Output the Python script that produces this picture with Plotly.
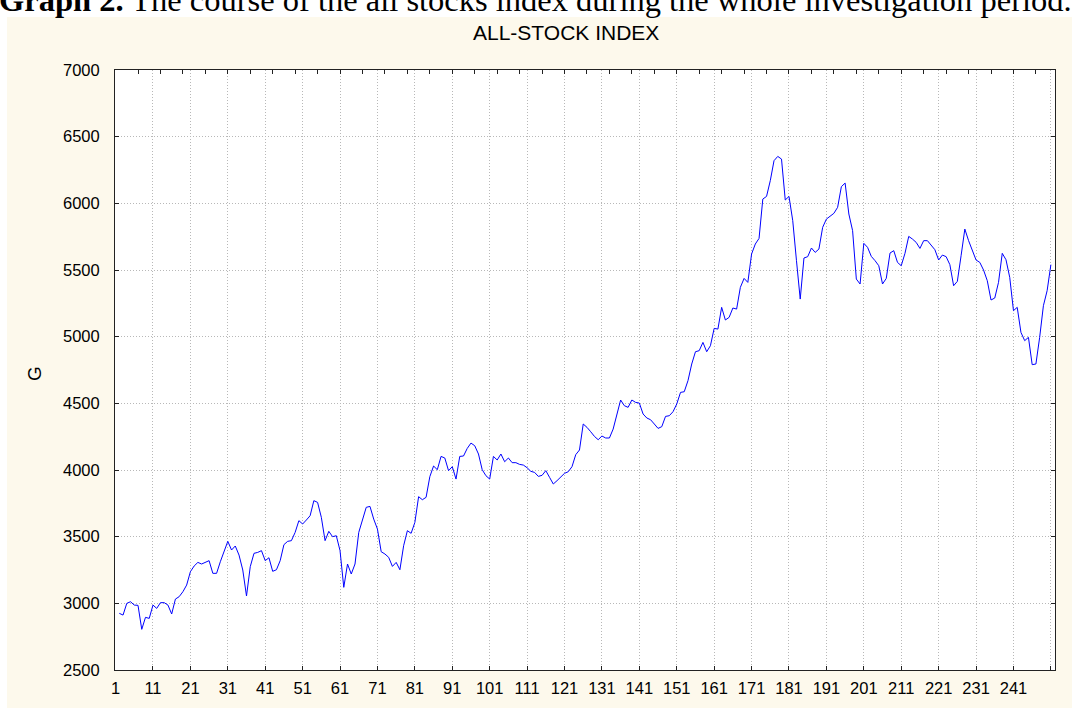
import plotly.graph_objects as go

# ---- data ----
period = list(range(2, 252))
index_values = [
    2925, 2912, 3000, 3012, 2987, 2985, 2805, 2895, 2887, 2987,
    2962, 3005, 3005, 2987, 2920, 3032, 3050, 3087, 3137, 3237,
    3280, 3307, 3295, 3305, 3320, 3225, 3225, 3312, 3395, 3465,
    3400, 3430, 3362, 3250, 3055, 3275, 3375, 3382, 3395, 3320,
    3342, 3240, 3252, 3320, 3440, 3465, 3470, 3532, 3620, 3595,
    3625, 3657, 3770, 3757, 3645, 3470, 3540, 3500, 3507, 3395,
    3120, 3295, 3220, 3295, 3532, 3620, 3720, 3727, 3632, 3557,
    3387, 3370, 3345, 3277, 3307, 3252, 3432, 3545, 3525, 3607,
    3800, 3777, 3795, 3950, 4030, 4002, 4102, 4090, 3995, 4025,
    3932, 4102, 4105, 4162, 4202, 4182, 4120, 4002, 3957, 3932,
    4102, 4075, 4120, 4062, 4090, 4055, 4055, 4042, 4037, 4017,
    3990, 3982, 3952, 3960, 3995, 3945, 3895, 3920, 3945, 3975,
    3987, 4025, 4115, 4150, 4345, 4320, 4287, 4252, 4227, 4255,
    4240, 4240, 4307, 4412, 4525, 4482, 4470, 4525, 4507, 4502,
    4420, 4390, 4377, 4345, 4312, 4325, 4402, 4407, 4437, 4495,
    4582, 4587, 4670, 4795, 4887, 4895, 4957, 4887, 4932, 5062,
    5057, 5220, 5125, 5145, 5215, 5207, 5370, 5437, 5407, 5620,
    5695, 5737, 6032, 6052, 6170, 6320, 6352, 6332, 6025, 6052,
    5870, 5570, 5282, 5590, 5600, 5665, 5632, 5657, 5820, 5882,
    5907, 5925, 5970, 6125, 6152, 5920, 5795, 5432, 5395, 5700,
    5670, 5602, 5570, 5532, 5395, 5437, 5627, 5645, 5557, 5532,
    5625, 5752, 5732, 5707, 5662, 5720, 5720, 5682, 5652, 5575,
    5612, 5600, 5540, 5382, 5415, 5607, 5807, 5720, 5650, 5575,
    5557, 5500, 5420, 5275, 5290, 5407, 5625, 5577, 5445, 5195,
    5220, 5032, 4970, 4995, 4790, 4795, 4995, 5232, 5345, 5540,
]
x_tick_vals = list(range(1, 252, 10))
x_tick_text = [str(v) for v in range(1, 242, 10)] + [""]
top_tick_vals = list(range(1, 252, 6))
y_tick_vals = [2500, 3000, 3500, 4000, 4500, 5000, 5500, 6000, 6500, 7000]

chart_title = "ALL-STOCK INDEX"
y_title = "G"
header = "<b>Graph 2.</b> The course of the all stocks index during the whole investigation period."

CREAM = "rgb(253,249,236)"
FONT = "Liberation Sans, Arial, sans-serif"
AX = "#222"
GRID = "#b8b8b8"
GRID_DASH = "1px,2px"

fig = go.Figure()
fig.add_trace(go.Scatter(x=period, y=index_values, mode="lines",
                         line=dict(color="#0000ff", width=1),
                         showlegend=False, hoverinfo="x+y"))
# invisible trace carrying the top axis
fig.add_trace(go.Scatter(x=period, y=index_values, mode="lines", xaxis="x2",
                         line=dict(color="rgba(0,0,0,0)", width=0),
                         showlegend=False, hoverinfo="skip"))

xr = [0.85, 252.1]
fig.update_layout(
    width=1072, height=708,
    margin=dict(l=115, r=17, t=70, b=38),
    paper_bgcolor=CREAM,
    plot_bgcolor="white",
    font=dict(family=FONT, size=16.5, color="black"),
    xaxis=dict(range=xr, tickvals=x_tick_vals, ticktext=x_tick_text,
               ticks="inside", ticklen=4, tickcolor=AX, tickwidth=1,
               showline=True, linecolor=AX, linewidth=1,
               showgrid=True, gridcolor=GRID, griddash=GRID_DASH, gridwidth=1,
               zeroline=False, tickfont=dict(size=16.5, family=FONT),
               ticklabelstandoff=3),
    xaxis2=dict(range=xr, overlaying="x", side="top", tickvals=top_tick_vals,
                ticks="inside", ticklen=4, tickcolor=AX,
                showticklabels=False, showline=True, linecolor=AX,
                linewidth=1, showgrid=False, zeroline=False),
    yaxis=dict(range=[2500, 7000], tickvals=y_tick_vals,
               ticks="inside", ticklen=4, tickcolor=AX,
               showline=True, linecolor=AX, linewidth=1, mirror="ticks",
               showgrid=True, gridcolor=GRID, griddash=GRID_DASH, gridwidth=1,
               zeroline=False, tickfont=dict(size=16.5, family=FONT),
               ticklabelstandoff=11),
    shapes=[
        dict(type="rect", xref="paper", yref="paper", layer="below",
             x0=-0.2, x1=1.1, y0=(670 - 17) / 600, y1=1.2,
             fillcolor="white", line=dict(width=0)),
        dict(type="rect", xref="paper", yref="paper", layer="below",
             x0=-0.2, x1=(7 - 115) / 940, y0=-0.2, y1=1.2,
             fillcolor="white", line=dict(width=0)),
    ],
    annotations=[
        dict(text=chart_title, xref="paper", yref="paper",
             x=(566 - 115) / 940, y=(670 - 33) / 600,
             xanchor="center", yanchor="middle", showarrow=False,
             font=dict(size=21, family=FONT)),
        dict(text=y_title, xref="paper", yref="paper",
             x=(35 - 115) / 940, y=(670 - 374) / 600, textangle=-90,
             xanchor="center", yanchor="middle", showarrow=False,
             font=dict(size=19, family=FONT)),
        dict(text=header, xref="paper", yref="paper",
             x=(-3 - 115) / 940, y=(670 - 20) / 600,
             xanchor="left", yanchor="bottom", showarrow=False,
             font=dict(size=32.5, family="Liberation Serif, Times New Roman, serif")),
    ],
)

fig.write_html("out.html", config={"displayModeBar": False},
               post_script="document.body.style.margin='0';")
